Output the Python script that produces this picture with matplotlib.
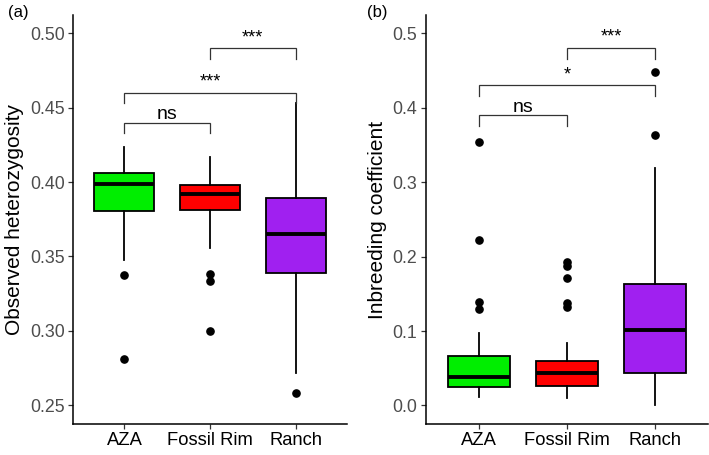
import matplotlib
matplotlib.use("Agg")
import matplotlib.pyplot as plt

plt.rcParams['font.family'] = ['Liberation Sans', 'DejaVu Sans']

groups = ["AZA", "Fossil Rim", "Ranch"]
box_colors = ["#00EE00", "#FF0000", "#A020F0"]

# observed heterozygosity: whislo, q1, median, q3, whishi
het_lo = [0.3478, 0.3556, 0.2716]
het_q1 = [0.3805, 0.3810, 0.3389]
het_med = [0.3985, 0.3920, 0.3650]
het_q3 = [0.4063, 0.3980, 0.3892]
het_hi = [0.4235, 0.4172, 0.4531]
het_out = [[0.3372, 0.2810], [0.3384, 0.3337, 0.3000], [0.2582]]

# inbreeding coefficient
inb_lo = [0.0108, 0.0100, 0.0000]
inb_q1 = [0.0250, 0.0264, 0.0430]
inb_med = [0.0376, 0.0430, 0.1008]
inb_q3 = [0.0663, 0.0595, 0.1626]
inb_hi = [0.0968, 0.0842, 0.3194]
inb_out = [[0.3540, 0.2218, 0.1384, 0.1290],
           [0.1930, 0.1875, 0.1715, 0.1380, 0.1320],
           [0.4484, 0.3633]]

# significance brackets: (from group, to group, bar height, tip drop, label)
het_sig = [(1, 2, 0.440, 0.0067, "ns"), (1, 3, 0.4602, 0.0072, "***"),
           (2, 3, 0.490, 0.0070, "***")]
inb_sig = [(1, 2, 0.390, 0.0146, "ns"), (1, 3, 0.430, 0.014, "*"),
           (2, 3, 0.480, 0.014, "***")]


def draw_panel(ax, lo, q1, med, q3, hi, out, sig, ylim, yticks, ylabel, fmt):
    stats = []
    for i in range(len(groups)):
        stats.append(dict(whislo=lo[i], q1=q1[i], med=med[i], q3=q3[i],
                          whishi=hi[i], fliers=out[i]))
    bp = ax.bxp(stats, positions=[1, 2, 3], widths=0.7, patch_artist=True,
                showcaps=False,
                boxprops=dict(linewidth=1.3, edgecolor="black"),
                whiskerprops=dict(linewidth=1.3, color="black"),
                medianprops=dict(linewidth=2.8, color="black", solid_capstyle="butt"),
                flierprops=dict(marker="o", markerfacecolor="black",
                                markeredgecolor="black", markersize=5.2))
    for patch, c in zip(bp["boxes"], box_colors):
        patch.set_facecolor(c)

    for a, b, h, d, lab in sig:
        ax.plot([a, a, b, b], [h - d, h, h, h - d], color="#333333", lw=0.9,
                solid_joinstyle="miter")
        ax.annotate(lab, xy=((a + b) / 2, h),
                    xytext=(0, 2.5 if lab == "ns" else 4.5),
                    textcoords="offset points", ha="center", va="baseline",
                    fontsize=14 if lab == "ns" else 13)

    ax.set_xlim(0.4, 3.6)
    ax.set_ylim(*ylim)
    ax.set_xticks([1, 2, 3])
    ax.set_xticklabels(groups, fontsize=13.2, color="black")
    ax.set_yticks(yticks)
    ax.set_yticklabels([fmt.format(v) for v in yticks], fontsize=12.8, color="#4D4D4D")
    ax.set_ylabel(ylabel, fontsize=15, labelpad=4)
    for s in ["top", "right"]:
        ax.spines[s].set_visible(False)
    for s in ["left", "bottom"]:
        ax.spines[s].set_linewidth(1.1)
    ax.tick_params(length=3.5, width=0.9, pad=2.5, color="#333333")


fig = plt.figure(figsize=(7.09, 4.55), dpi=100)
ax1 = fig.add_axes([0.103, 0.068, 0.3865, 0.899])
ax2 = fig.add_axes([0.6004, 0.068, 0.3986, 0.899])

draw_panel(ax1, het_lo, het_q1, het_med, het_q3, het_hi, het_out, het_sig,
           (0.2372, 0.5124), [0.25, 0.30, 0.35, 0.40, 0.45, 0.50],
           "Observed heterozygosity", "{:.2f}")
draw_panel(ax2, inb_lo, inb_q1, inb_med, inb_q3, inb_hi, inb_out, inb_sig,
           (-0.025, 0.5246), [0.0, 0.1, 0.2, 0.3, 0.4, 0.5],
           "Inbreeding coefficient", "{:.1f}")

fig.text(0.011, 0.972, "(a)", fontsize=12, va="center", ha="left")
fig.text(0.518, 0.972, "(b)", fontsize=12, va="center", ha="left")

fig.savefig("out.png", dpi=100)
